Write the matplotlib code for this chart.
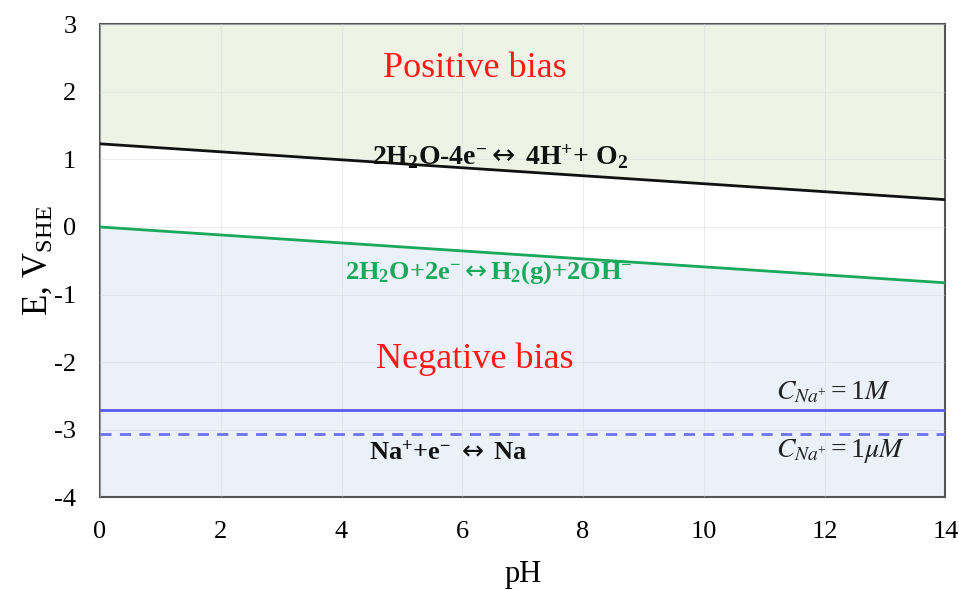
import numpy as np
import matplotlib
matplotlib.use("Agg")
import matplotlib.pyplot as plt

# Pourbaix-style stability window for water and sodium
ph = [0, 14]
oxygen_line = [1.23, 0.404]        # 2H2O - 4e- <-> 4H+ + O2
hydrogen_line = [0.0, -0.826]      # 2H2O + 2e- <-> H2(g) + 2OH-
na_1M = [-2.71, -2.71]             # Na+ + e- <-> Na, C = 1 M
na_1uM = [-3.065, -3.065]          # Na+ + e- <-> Na, C = 1 uM

x_ticks = [0, 2, 4, 6, 8, 10, 12, 14]
y_ticks = [-4, -3, -2, -1, 0, 1, 2, 3]

plt.rcParams['font.family'] = ['Liberation Serif', 'DejaVu Serif']
plt.rcParams['mathtext.fontset'] = 'custom'
plt.rcParams['mathtext.rm'] = 'Liberation Serif'
plt.rcParams['mathtext.it'] = 'Liberation Serif:italic'
plt.rcParams['mathtext.bf'] = 'Liberation Serif:bold'
plt.rcParams['mathtext.sf'] = 'DejaVu Sans'
plt.rcParams['mathtext.default'] = 'regular'
plt.rcParams['axes.unicode_minus'] = False

ARROW = r'$\mathsf{\leftrightarrow}$'

fig = plt.figure(figsize=(9.59, 5.90), dpi=100)
ax = fig.add_axes([0.1043, 0.157, 0.8815, 0.802])

ax.set_xlim(0, 14)
ax.set_ylim(-4, 3)

# shaded regions
ax.fill_between(ph, oxygen_line, 3, color='#eef3e5', zorder=0, lw=0)
ax.fill_between(ph, -4, hydrogen_line, color='#ebf1f9', zorder=0, lw=0)

ax.set_xticks(x_ticks)
ax.set_yticks(y_ticks)
ax.grid(True, color='#d9dde0', lw=0.6, alpha=0.6, zorder=0.5)
ax.set_axisbelow(False)

ax.plot(ph, oxygen_line, color='#111111', lw=2, zorder=3)
ax.plot(ph, hydrogen_line, color='#1aa85a', lw=2, zorder=3)
ax.plot(ph, na_1M, color='#5a5af0', lw=2, zorder=3)
ax.plot(ph, na_1uM, color='#6f6ff0', lw=2, ls=(0, (4, 3)), zorder=3)

for s in ax.spines.values():
    s.set_color('#555555')
    s.set_linewidth(1.5)
ax.tick_params(axis='x', length=0, labelsize=19, pad=17)
ax.tick_params(axis='y', length=0, labelsize=19, pad=17)

ax.set_xlabel('pH', fontsize=22, labelpad=12)
ax.set_ylabel(r'E, V$_{\rm SHE}$', fontsize=25, labelpad=0)

ax.text(6.2, 2.34, 'Positive bias', color='#ff1a1a', fontsize=26, ha='center', va='center')
ax.text(6.2, -1.96, 'Negative bias', color='#ff1a1a', fontsize=26, ha='center', va='center')

ax.text(4.5, 1.03, '2H$_2$O-4e$^{-}$' + ARROW + ' 4H$^{+}$+ O$_2$', fontsize=20,
        fontweight='bold', color='#111111', ha='left', va='center')
ax.text(4.05, -0.68, '2H$_2$O+2e$^{-}$' + ARROW + 'H$_2$(g)+2OH$^{-}$', fontsize=19,
        fontweight='bold', color='#1aa85a', ha='left', va='center')
ax.text(4.45, -3.34, 'Na$^{+}$+e$^{-}$ ' + ARROW + ' Na', fontsize=19,
        fontweight='bold', color='#111111', ha='left', va='center')

ax.text(11.2, -2.45, r'$\mathit{C}_{\mathit{Na}^{+}}=1\mathit{M}$', fontsize=20, color='#222222',
        ha='left', va='center', math_fontfamily='stix')
ax.text(11.2, -3.32, r'$\mathit{C}_{\mathit{Na}^{+}}=1\mathit{\mu M}$', fontsize=20, color='#222222',
        ha='left', va='center', math_fontfamily='stix')

fig.savefig('out.png', dpi=100)
